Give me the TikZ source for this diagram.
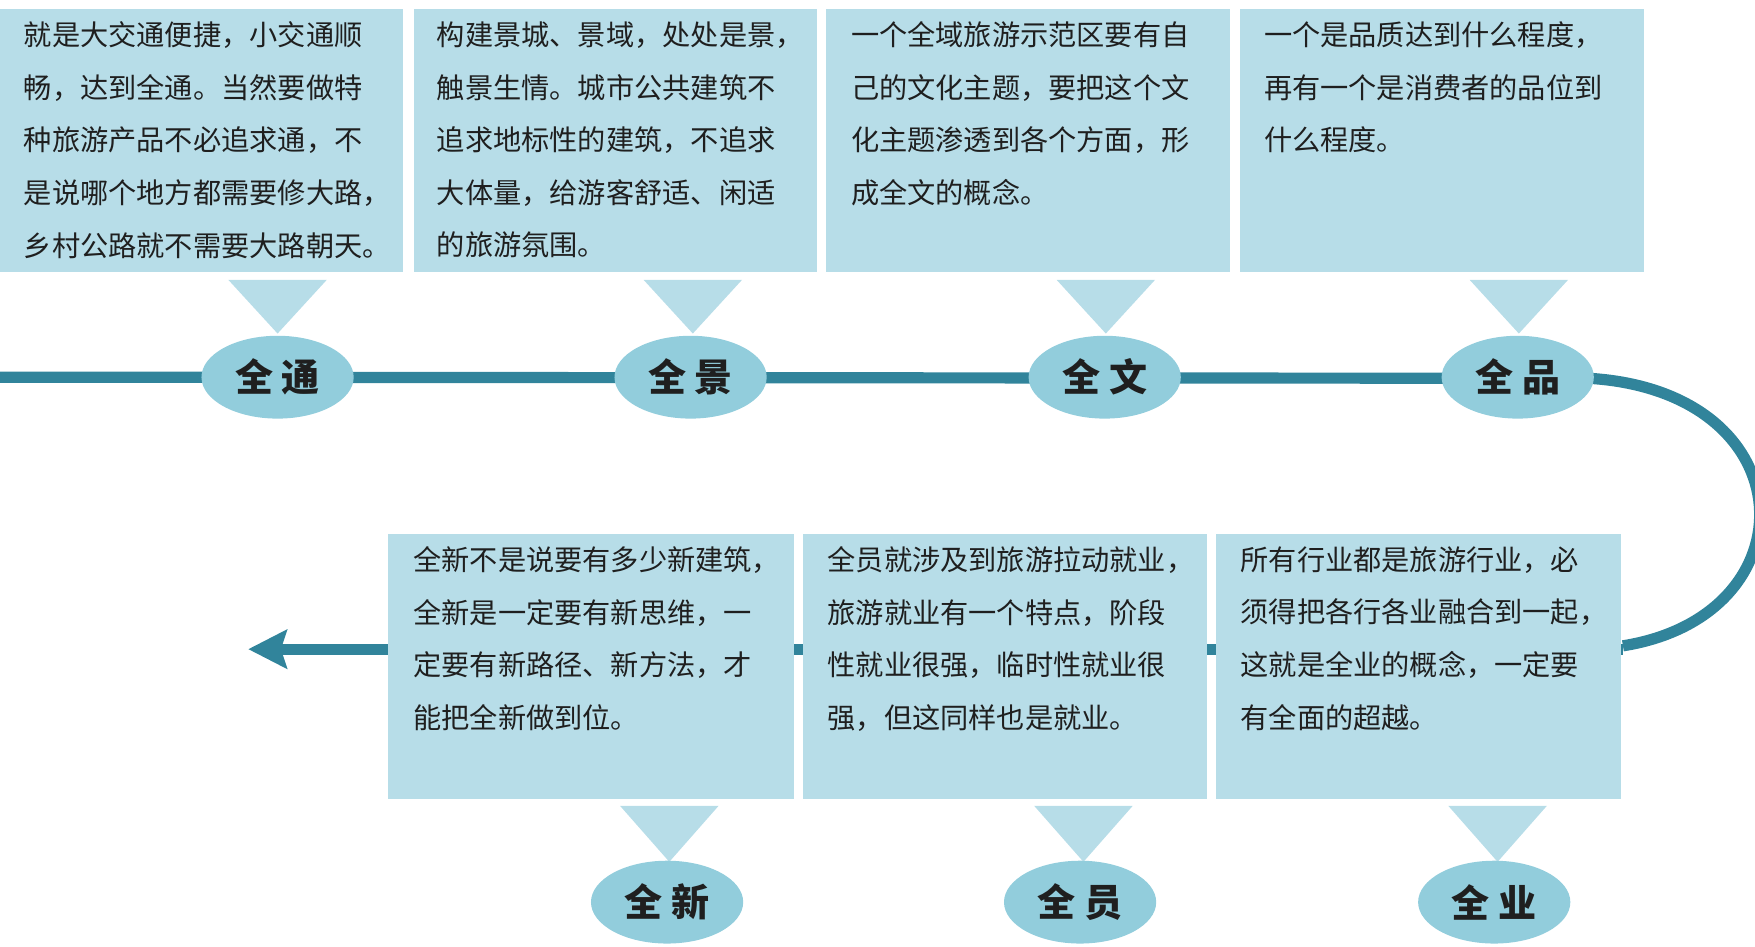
\documentclass[tikz,border=0pt]{standalone}
\usepackage{fontspec}
\usetikzlibrary{shapes.geometric}
\newfontfamily\cjk{Noto Sans CJK SC}
\definecolor{boxc}{HTML}{B7DDE8}
\definecolor{ellc}{HTML}{92CDDC}
\definecolor{linec}{HTML}{31849B}
\definecolor{txtc}{HTML}{1F1F1F}
\begin{document}
\begin{tikzpicture}[x=0.5pt,y=-0.5pt,
  boxs/.style={fill=boxc,draw=none},
  tri/.style={fill=boxc,draw=none},
  ell/.style={ellipse,fill=ellc,minimum width=68pt,minimum height=37pt,inner sep=0pt,font=\cjk\bfseries\fontsize{17}{20}\selectfont,text=txtc},
  txt/.style={anchor=north west,align=left,inner sep=0pt,font=\cjk\fontsize{12.6}{23.5}\selectfont,text=txtc},
  ln/.style={draw=linec,line width=5pt}]
\useasboundingbox (0,0) rectangle (1568,846);
% lines
\coordinate (l0) at (0,337);
\coordinate (l1) at (1420,338);
\coordinate (l2) at (1450,577);
\coordinate (l3) at (250,580);
\draw[ln] (l0) -- (l1);
\draw[ln] (l1) .. controls (1615,350) and (1620,550) .. (l2);
\draw[ln] (l2 |- l3) -- (l3);
\fill[linec] (222,580) -- (257,562) -- (251,580) -- (257,598) -- cycle;
% top boxes
\foreach \x/\w/\c/\n in {0/360/248/a,370/360/619/b,738/361/988/c,1108/361/1357/d}{
  \fill[boxs] (\x,8) rectangle ++(\w,235);
  \fill[tri] (\c-44,250) -- (\c+44,250) -- (\c,298) -- cycle;
}
\foreach \x/\w/\c in {347/362/598,717/361/968,1086/362/1338}{
  \fill[boxs] (\x,477) rectangle ++(\w,237);
  \fill[tri] (\c-44,720) -- (\c+44,720) -- (\c,770) -- cycle;
}
\node[ell] (e1) at (248,337) {全 通};
\node[ell] (e2) at (617,337) {全 景};
\node[ell] (e3) at (987,337) {全 文};
\node[ell] (e4) at (1356,337) {全 品};
\node[ell] (e5) at (596,806) {全 新};
\node[ell] (e6) at (965,806) {全 员};
\node[ell] (e7) at (1335,806) {全 业};
\node[txt] (t1) at (21,19) {就是大交通便捷，小交通顺\\畅，达到全通。当然要做特\\种旅游产品不必追求通，不\\是说哪个地方都需要修大路，\\乡村公路就不需要大路朝天。};
\node[txt] (t2) at (390,19) {构建景城、景域，处处是景，\\触景生情。城市公共建筑不\\追求地标性的建筑，不追求\\大体量，给游客舒适、闲适\\的旅游氛围。};
\node[txt] (t3) at (760,19) {一个全域旅游示范区要有自\\己的文化主题，要把这个文\\化主题渗透到各个方面，形\\成全文的概念。};
\node[txt] (t4) at (1129,19) {一个是品质达到什么程度，\\再有一个是消费者的品位到\\什么程度。};
\node[txt] (t5) at (369,488) {全新不是说要有多少新建筑，\\全新是一定要有新思维，一\\定要有新路径、新方法，才\\能把全新做到位。};
\node[txt] (t6) at (739,488) {全员就涉及到旅游拉动就业，\\旅游就业有一个特点，阶段\\性就业很强，临时性就业很\\强，但这同样也是就业。};
\node[txt] (t7) at (1108,488) {所有行业都是旅游行业，必\\须得把各行各业融合到一起，\\这就是全业的概念，一定要\\有全面的超越。};
\end{tikzpicture}
\end{document}
